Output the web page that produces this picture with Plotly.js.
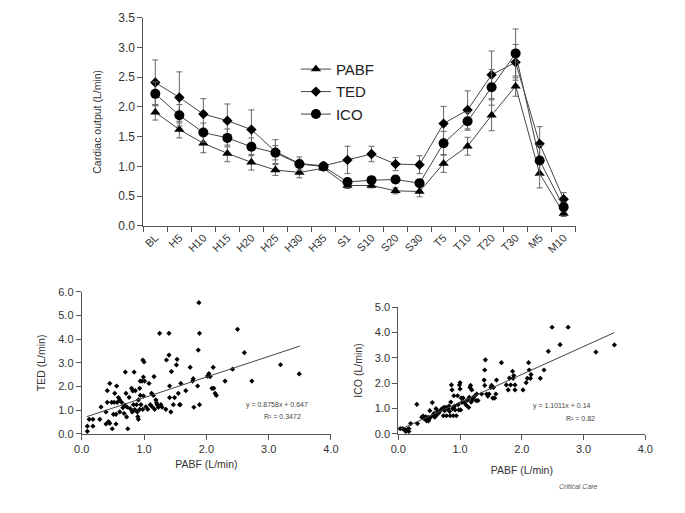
<!DOCTYPE html>
<html>
<head>
<meta charset="utf-8">
<script src="https://cdn.plot.ly/plotly-3.0.1.min.js"></script>
<style>html,body{margin:0;padding:0;background:#fff;}#chart{width:685px;height:513px;}</style>
</head>
<body>
<div id="chart"></div>
<script>
// ---- Top panel: cardiac output over time ----
const timepoints = ["BL","H5","H10","H15","H20","H25","H30","H35","S1","S10","S20","S30","T5","T10","T20","T30","M5","M10"];
const pabfMean = [1.91,1.62,1.39,1.22,1.07,0.94,0.90,0.97,0.68,0.68,0.59,0.58,1.05,1.34,1.86,2.35,0.88,0.21];
const pabfErr  = [0.13,0.14,0.16,0.14,0.13,0.09,0.09,0.04,0.05,0.04,0.05,0.09,0.15,0.15,0.26,0.17,0.24,0.05];
const tedMean  = [2.41,2.16,1.88,1.77,1.62,1.25,1.05,1.01,1.11,1.21,1.04,1.03,1.72,1.95,2.54,2.75,1.38,0.45];
const tedErr   = [0.38,0.43,0.26,0.28,0.33,0.20,0.11,0.04,0.23,0.13,0.11,0.15,0.29,0.32,0.40,0.30,0.29,0.11];
const icoMean  = [2.22,1.86,1.57,1.48,1.33,1.23,1.04,1.00,0.74,0.77,0.78,0.72,1.39,1.76,2.33,2.90,1.10,0.32];
const icoErr   = [0.20,0.18,0.16,0.15,0.15,0.12,0.06,0.04,0.05,0.05,0.06,0.06,0.20,0.15,0.30,0.41,0.25,0.08];

// ---- Bottom left: TED vs PABF ----
const tedPabfX = [0.09,0.09,0.12,0.18,0.18,0.29,0.31,0.39,0.39,0.41,0.41,0.43,0.45,0.45,0.48,0.49,0.51,0.52,0.53,0.55,0.55,0.56,0.57,0.59,0.61,0.61,0.64,0.66,0.68,0.69,0.70,0.71,0.72,0.73,0.74,0.76,0.78,0.80,0.81,0.82,0.83,0.84,0.85,0.86,0.88,0.89,0.90,0.91,0.91,0.93,0.93,0.94,0.94,0.95,0.97,0.98,0.98,0.99,0.99,1.00,1.01,1.03,1.06,1.08,1.10,1.12,1.13,1.15,1.16,1.17,1.19,1.20,1.21,1.23,1.25,1.27,1.29,1.35,1.36,1.40,1.40,1.41,1.41,1.43,1.44,1.47,1.49,1.52,1.53,1.55,1.57,1.58,1.59,1.67,1.74,1.78,1.79,1.80,1.86,1.87,1.88,1.89,1.89,2.02,2.04,2.06,2.09,2.11,2.12,2.14,2.16,2.30,2.42,2.50,2.61,2.73,3.19,3.49];
const tedPabfY = [0.32,0.10,0.61,0.61,0.32,0.61,1.13,0.92,0.41,1.33,1.82,0.51,2.13,0.44,1.33,0.21,0.82,1.33,1.71,0.82,0.41,2.02,1.33,1.53,1.43,0.92,1.33,1.10,0.86,1.21,2.61,1.71,0.71,1.12,0.21,1.54,1.06,1.92,0.92,1.81,1.23,2.61,1.02,1.82,1.23,0.92,0.72,0.61,1.43,1.92,1.03,1.62,2.23,1.23,2.23,3.12,1.03,2.40,1.60,3.04,2.23,1.14,1.03,2.13,1.23,1.71,1.14,1.62,2.42,1.03,1.43,1.31,1.23,1.12,4.25,1.23,1.12,1.03,3.12,3.33,4.25,2.02,1.53,0.92,2.63,1.23,1.53,2.91,3.15,1.71,1.23,1.23,2.13,1.82,2.81,2.23,2.33,1.12,2.02,3.54,5.55,4.25,1.23,2.44,2.54,2.42,1.92,2.81,1.92,1.71,1.62,2.23,2.73,4.42,3.43,2.23,2.92,2.53];
const tedTrendX = [0.08,3.50];
const tedTrendY = [0.72,3.71];

// ---- Bottom right: ICO vs PABF ----
const icoPabfX = [0.03,0.07,0.10,0.12,0.15,0.17,0.17,0.20,0.30,0.31,0.38,0.40,0.42,0.44,0.46,0.48,0.49,0.50,0.51,0.52,0.55,0.56,0.58,0.59,0.61,0.62,0.64,0.66,0.69,0.71,0.73,0.74,0.75,0.77,0.78,0.80,0.82,0.83,0.84,0.85,0.86,0.87,0.88,0.89,0.90,0.91,0.92,0.94,0.96,0.97,0.98,0.99,1.00,1.00,1.01,1.02,1.03,1.05,1.07,1.10,1.12,1.14,1.15,1.16,1.17,1.18,1.19,1.20,1.21,1.24,1.26,1.27,1.29,1.35,1.39,1.40,1.40,1.41,1.43,1.45,1.47,1.50,1.51,1.53,1.54,1.56,1.58,1.59,1.67,1.75,1.78,1.80,1.82,1.85,1.86,1.87,1.89,1.89,2.02,2.07,2.09,2.11,2.12,2.14,2.15,2.30,2.36,2.43,2.49,2.62,2.75,3.20,3.50];
const icoPabfY = [0.20,0.20,0.17,0.09,0.17,0.09,0.20,0.40,1.16,0.40,0.65,0.70,0.59,0.67,0.51,0.65,0.51,0.59,0.91,0.65,1.23,0.73,0.80,0.65,0.99,0.73,0.88,0.83,0.94,0.99,0.71,1.04,0.91,1.04,0.71,0.99,1.09,0.88,0.71,1.25,1.93,1.73,0.99,0.71,1.50,1.09,0.94,0.71,1.50,1.15,0.94,1.93,2.02,1.77,0.94,1.41,1.24,1.41,1.23,1.13,1.33,1.04,1.44,1.83,1.91,1.25,1.73,1.33,1.41,1.50,1.31,1.57,1.31,1.57,2.12,1.91,2.52,2.92,1.57,1.49,1.57,1.83,1.91,1.41,1.83,1.41,1.57,2.12,2.81,1.93,1.73,2.20,1.93,2.47,2.19,2.30,1.93,1.73,1.73,2.02,2.19,2.81,2.52,2.19,2.34,2.19,2.52,3.26,4.21,3.52,4.21,3.23,3.51];
const icoTrendX = [0.03,3.50];
const icoTrendY = [0.17,4.00];

const FONT = "Liberation Sans, Arial, sans-serif";
const AX = "#555";
const lineCol = "#444";
const errStyle = (arr) => ({type:"data", array:arr, visible:true, color:"#666", thickness:1, width:3});

const traces = [
  {x:timepoints, y:pabfMean, name:"PABF", type:"scatter", mode:"lines+markers", xaxis:"x", yaxis:"y",
   line:{color:lineCol, width:1}, marker:{symbol:"triangle-up", size:9, color:"#000"}, error_y:errStyle(pabfErr), cliponaxis:false},
  {x:timepoints, y:tedMean, name:"TED", type:"scatter", mode:"lines+markers", xaxis:"x", yaxis:"y",
   line:{color:lineCol, width:1}, marker:{symbol:"diamond", size:8, color:"#000"}, error_y:errStyle(tedErr), cliponaxis:false},
  {x:timepoints, y:icoMean, name:"ICO", type:"scatter", mode:"lines+markers", xaxis:"x", yaxis:"y",
   line:{color:lineCol, width:1}, marker:{symbol:"circle", size:10, color:"#000"}, error_y:errStyle(icoErr), cliponaxis:false},

  {x:tedPabfX, y:tedPabfY, type:"scatter", mode:"markers", xaxis:"x2", yaxis:"y2", showlegend:false,
   marker:{symbol:"diamond", size:4, color:"#000"}, cliponaxis:false},
  {x:tedTrendX, y:tedTrendY, type:"scatter", mode:"lines", xaxis:"x2", yaxis:"y2", showlegend:false,
   line:{color:"#444", width:1}},

  {x:icoPabfX, y:icoPabfY, type:"scatter", mode:"markers", xaxis:"x3", yaxis:"y3", showlegend:false,
   marker:{symbol:"diamond", size:4, color:"#000"}, cliponaxis:false},
  {x:icoTrendX, y:icoTrendY, type:"scatter", mode:"lines", xaxis:"x3", yaxis:"y3", showlegend:false,
   line:{color:"#444", width:1}}
];

const baseAxis = {showline:true, linecolor:AX, linewidth:1, ticks:"outside", ticklen:5, tickcolor:AX,
  showgrid:false, zeroline:false, tickfont:{family:FONT, size:11, color:"#333"}};

const layout = {
  width:685, height:513, margin:{l:0, r:0, t:0, b:0},
  paper_bgcolor:"#fff", plot_bgcolor:"rgba(0,0,0,0)",
  font:{family:FONT, color:"#333"},
  showlegend:true,
  legend:{x:0.432, y:0.897, xanchor:"left", yanchor:"top", bgcolor:"rgba(0,0,0,0)",
    font:{family:FONT, size:15, color:"#222"}, tracegroupgap:0},
  xaxis:Object.assign({}, baseAxis, {domain:[0.2092,0.8404], anchor:"y", type:"category",
    range:[-0.5,17.5], tickson:"boundaries", tickangle:-45, tickfont:{family:FONT, size:11, color:"#333"}}),
  yaxis:Object.assign({}, baseAxis, {domain:[0.5595,0.9655], anchor:"x", range:[0,3.5], dtick:0.5, tickformat:".1f",
    tickfont:{family:FONT, size:12, color:"#333"},
    title:{text:"Cardiac output (L/min)", font:{family:FONT, size:10.5, color:"#333"}, standoff:14}}),
  xaxis2:Object.assign({}, baseAxis, {domain:[0.1193,0.4832], anchor:"y2", range:[0,4], dtick:1, tickformat:".1f",
    title:{text:"PABF (L/min)", font:{family:FONT, size:10.5, color:"#333"}, standoff:6}}),
  yaxis2:Object.assign({}, baseAxis, {domain:[0.1546,0.4308], anchor:"x2", range:[0,6], dtick:1, tickformat:".1f",
    title:{text:"TED (L/min)", font:{family:FONT, size:10.5, color:"#333"}, standoff:10}}),
  xaxis3:Object.assign({}, baseAxis, {domain:[0.5815,0.9420], anchor:"y3", range:[0,4], dtick:1, tickformat:".1f",
    title:{text:"PABF (L/min)", font:{family:FONT, size:10.5, color:"#333"}, standoff:12}}),
  yaxis3:Object.assign({}, baseAxis, {domain:[0.1546,0.4010], anchor:"x3", range:[0,5], dtick:1, tickformat:".1f",
    title:{text:"ICO (L/min)", font:{family:FONT, size:10.5, color:"#333"}, standoff:10}}),
  annotations:[
    {xref:"paper", yref:"paper", x:277/685, y:1-411/513, text:"y = 0.8758x + 0.647", showarrow:false,
     font:{family:FONT, size:7, color:"#444"}},
    {xref:"paper", yref:"paper", x:282/685, y:1-422/513, text:"R² = 0.3472", showarrow:false,
     font:{family:FONT, size:7, color:"#444"}},
    {xref:"paper", yref:"paper", x:593/685, y:1-412/513, text:"y = 1.1011x + 0.14", showarrow:false,
     font:{family:FONT, size:7, color:"#444"}},
    {xref:"paper", yref:"paper", x:597/685, y:1-424/513, text:"R² = 0.82", showarrow:false,
     font:{family:FONT, size:7, color:"#444"}},
    {xref:"paper", yref:"paper", x:600/685, y:1-492/513, text:"Critical Care", showarrow:false,
     font:{family:FONT, size:7, color:"#555", style:"italic"}}
  ]
};

Plotly.newPlot("chart", traces, layout, {displayModeBar:false, staticPlot:true});
</script>
</body>
</html>
